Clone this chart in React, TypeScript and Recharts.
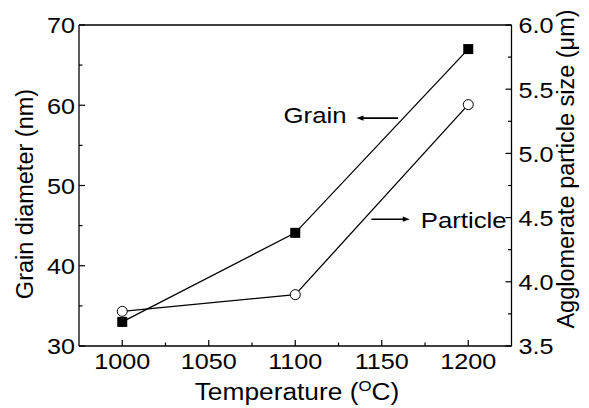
import React from "react";
import { LineChart, Line, XAxis, YAxis, ReferenceLine } from "recharts";

const temperatures = [1000, 1100, 1200];
const grainDiameter = [33, 44.1, 67];
const particleSize = [3.77, 3.9, 5.38];

const xTicks = [1000, 1025, 1050, 1075, 1100, 1125, 1150, 1175, 1200];
const leftTicks = [30, 35, 40, 45, 50, 55, 60, 65, 70];
const rightTicks = [3.5, 3.75, 4.0, 4.25, 4.5, 4.75, 5.0, 5.25, 5.5, 5.75, 6.0];

const data = temperatures.map((t, i) => ({
  t,
  grain: grainDiameter[i],
  particle: particleSize[i],
}));

const FONT = '"Liberation Sans", Arial, Helvetica, sans-serif';
const INK = "#000";
// the original figure is a little wider than tall, so horizontal text is stretched
const STRETCH = 1.12;

const WideText = ({ x, y, anchor = "start", size = 23, children }: any) => (
  <text
    transform={`translate(${x} ${y}) scale(${STRETCH} 1)`}
    x={0}
    y={0}
    textAnchor={anchor}
    fontSize={size}
    fill={INK}
    fontFamily={FONT}
  >
    {children}
  </text>
);

const BottomTick = ({ x, y, payload }: any) => {
  const major = payload.value % 50 === 0;
  return (
    <g>
      <line x1={x} y1={y} x2={x} y2={y - (major ? 6 : 3.5)} stroke={INK} strokeWidth={1.2} />
      {major && (
        <WideText x={x} y={y + 23} anchor="middle" size={22.5}>
          {payload.value}
        </WideText>
      )}
    </g>
  );
};

const LeftTick = ({ x, y, payload }: any) => {
  const major = payload.value % 10 === 0;
  return (
    <g>
      <line x1={x} y1={y} x2={x + (major ? 6 : 3.5)} y2={y} stroke={INK} strokeWidth={1.2} />
      {major && (
        <WideText x={x - 4} y={y + 8.3} anchor="end" size={22.5}>
          {payload.value}
        </WideText>
      )}
    </g>
  );
};

const RightTick = ({ x, y, payload }: any) => {
  const major = Math.abs((payload.value * 2) % 1) < 1e-6;
  return (
    <g>
      <line x1={x} y1={y} x2={x - (major ? 6 : 3.5)} y2={y} stroke={INK} strokeWidth={1.2} />
      {major && (
        <WideText x={x + 7} y={y + 8.3} anchor="start" size={22.5}>
          {payload.value.toFixed(1)}
        </WideText>
      )}
    </g>
  );
};

const SquareDot = (p: any) => (
  <rect key={`sq-${p.index}`} x={p.cx - 5} y={p.cy - 5} width={10} height={10} fill={INK} />
);

const CircleDot = (p: any) => (
  <circle key={`ci-${p.index}`} cx={p.cx} cy={p.cy} r={5} fill="#fff" stroke={INK} strokeWidth={1} />
);

// short arrow next to a series name
const arrowShape = (label: string, pointsLeft: boolean, textDy: number) => (p: any) => {
  const { x1, y1, x2, y2 } = p;
  const headX = pointsLeft ? Math.min(x1, x2) : Math.max(x1, x2);
  const tailX = pointsLeft ? Math.max(x1, x2) : Math.min(x1, x2);
  const dir = pointsLeft ? -1 : 1;
  const y = (y1 + y2) / 2;
  return (
    <g>
      <line x1={tailX} y1={y} x2={headX - dir * 5} y2={y} stroke={INK} strokeWidth={1.6} />
      <polygon
        points={`${headX},${y} ${headX - dir * 7},${y - 2.6} ${headX - dir * 7},${y + 2.6}`}
        fill={INK}
      />
      {pointsLeft ? (
        <WideText x={headX - 10} y={y + textDy} anchor="end" size={23}>
          {label}
        </WideText>
      ) : (
        <WideText x={headX + 11} y={y + textDy} anchor="start" size={23}>
          {label}
        </WideText>
      )}
    </g>
  );
};

export default function App() {
  return (
    <div style={{ position: "absolute", left: 0, top: 0, background: "#fff" }}>
      <LineChart
        width={589}
        height={408}
        data={data}
        margin={{ top: 25, right: 17.5, bottom: 22, left: 19 }}
        style={{ fontFamily: FONT }}
      >
        <XAxis
          dataKey="t"
          type="number"
          domain={[975, 1225]}
          ticks={xTicks}
          interval={0}
          height={40}
          tickSize={0}
          tickMargin={0}
          tickLine={false}
          axisLine={{ stroke: INK, strokeWidth: 1.3 }}
          tick={<BottomTick />}
          label={{
            position: "insideBottom",
            content: () => (
              <WideText x={297} y={400} anchor="middle" size={23.5}>
                Temperature (
                <tspan fontSize={15} dy={-9}>O</tspan>
                <tspan dy={9}>C)</tspan>
              </WideText>
            ),
          }}
        />
        <YAxis
          yAxisId="left"
          type="number"
          domain={[30, 70]}
          ticks={leftTicks}
          interval={0}
          width={60}
          tickSize={0}
          tickMargin={0}
          tickLine={false}
          axisLine={{ stroke: INK, strokeWidth: 1.3 }}
          tick={<LeftTick />}
          label={{
            position: "insideLeft",
            content: () => (
              <text
                x={33}
                y={194}
                transform="rotate(-90 33 194)"
                textAnchor="middle"
                fontSize={23.5}
                fill={INK}
                fontFamily={FONT}
              >
                Grain diameter (nm)
              </text>
            ),
          }}
        />
        <YAxis
          yAxisId="right"
          orientation="right"
          type="number"
          domain={[3.5, 6.0]}
          ticks={rightTicks}
          interval={0}
          width={60}
          tickSize={0}
          tickMargin={0}
          tickLine={false}
          axisLine={{ stroke: INK, strokeWidth: 1.3 }}
          tick={<RightTick />}
          label={{
            position: "insideRight",
            content: () => (
              <text
                x={574}
                y={169}
                transform="rotate(-90 574 169)"
                textAnchor="middle"
                fontSize={23.5}
                fill={INK}
                fontFamily={FONT}
              >
                Agglomerate particle size (μm)
              </text>
            ),
          }}
        />
        <ReferenceLine yAxisId="left" y={70} stroke={INK} strokeWidth={1.3} />
        <ReferenceLine
          yAxisId="left"
          segment={[
            { x: 1135.4, y: 58.4 },
            { x: 1159.4, y: 58.4 },
          ]}
          shape={arrowShape("Grain", true, 4.7)}
        />
        <ReferenceLine
          yAxisId="left"
          segment={[
            { x: 1144, y: 45.8 },
            { x: 1166.2, y: 45.8 },
          ]}
          shape={arrowShape("Particle", false, 9)}
        />
        <Line
          yAxisId="left"
          dataKey="grain"
          type="linear"
          stroke={INK}
          strokeWidth={1.3}
          dot={SquareDot}
          isAnimationActive={false}
        />
        <Line
          yAxisId="right"
          dataKey="particle"
          type="linear"
          stroke={INK}
          strokeWidth={1.3}
          dot={CircleDot}
          isAnimationActive={false}
        />
      </LineChart>
    </div>
  );
}
